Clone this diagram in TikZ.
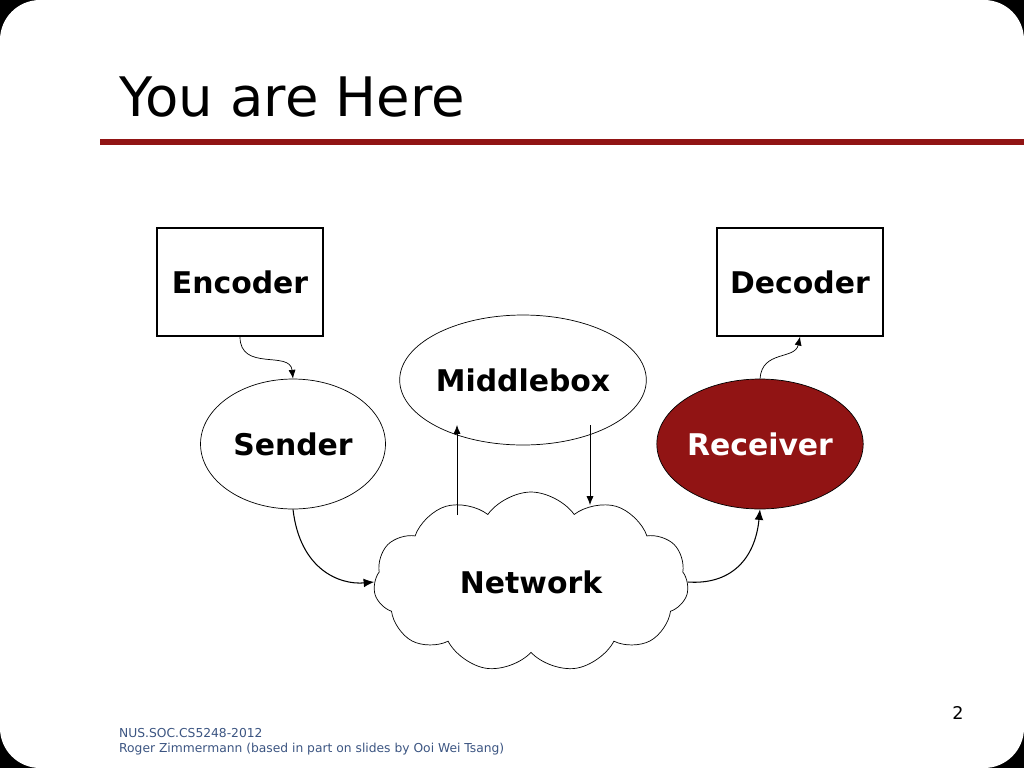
\documentclass[tikz,border=0pt]{standalone}
\usepackage{fontspec}
\setmainfont{DejaVu Sans}
\usetikzlibrary{shapes.symbols,shapes.geometric,arrows.meta}
\definecolor{slidered}{RGB}{145,20,20}
\definecolor{footblue}{RGB}{60,85,130}
\tikzset{
  box/.style={draw,thick,minimum width=3.32cm,minimum height=2.16cm,font=\fontsize{17}{20}\selectfont\bfseries},
  blob/.style={draw,ellipse,minimum width=3.7cm,minimum height=2.6cm,inner sep=0pt,font=\fontsize{17}{20}\selectfont\bfseries},
  link/.style={-{Latex[length=5pt,width=4pt]}},
  biglink/.style={-{Latex[length=6pt,width=5pt]},semithick}
}
\begin{document}
\begin{tikzpicture}[x=0.02cm,y=-0.02cm]
  \useasboundingbox (0,0) rectangle (1024,768);
  \fill[black] (0,0) rectangle (1024,768);
  \fill[white,rounded corners=0.8cm] (0,0) rectangle (1024,768);
  % title
  \node (title) at (113,97) [anchor=west,font=\fontsize{31}{36}\selectfont] {You are Here};
  \fill[slidered] (100,139) rectangle (1024,145);
  % boxes and hosts
  \node (enc) at (240,282) [box] {Encoder};
  \node (dec) at (800,282) [box] {Decoder};
  \node (mid) at (523,380) [blob] {Middlebox};
  \node (snd) at (293,444) [blob] {Sender};
  \node (rcv) at (760,444) [blob,fill=slidered,text=white] {Receiver};
  \node (net) at (531,582) [draw,cloud,cloud puffs=11,cloud puff arc=110,aspect=1.8,minimum width=6.3cm,minimum height=3.6cm,font=\fontsize{17}{20}\selectfont\bfseries] {Network};
  % connectors
  \draw[link] (enc.south) .. controls (240,372) and (290,350) .. (snd.north);
  \draw[link] (rcv.north) .. controls (762,350) and (795,360) .. (dec.south);
  \draw[biglink] (snd.south) .. controls (300,570) and (340,585) .. (net.west);
  \draw[biglink] (net.east) .. controls (730,585) and (755,560) .. (rcv.south);
  \coordinate (up0) at (457,515);
  \coordinate (dn1) at (590,505);
  \draw[link] (up0) -- (457,425);
  \draw[link] (590,425) -- (dn1);
  % footer
  \node (pg) at (958,713) {\fontsize{10}{12}\selectfont 2};
  \node (foot) at (113,742) [anchor=west,align=left,text=footblue,font=\fontsize{7}{8.6}\selectfont] {NUS.SOC.CS5248-2012\\Roger Zimmermann (based in part on slides by Ooi Wei Tsang)};
\end{tikzpicture}
\end{document}
